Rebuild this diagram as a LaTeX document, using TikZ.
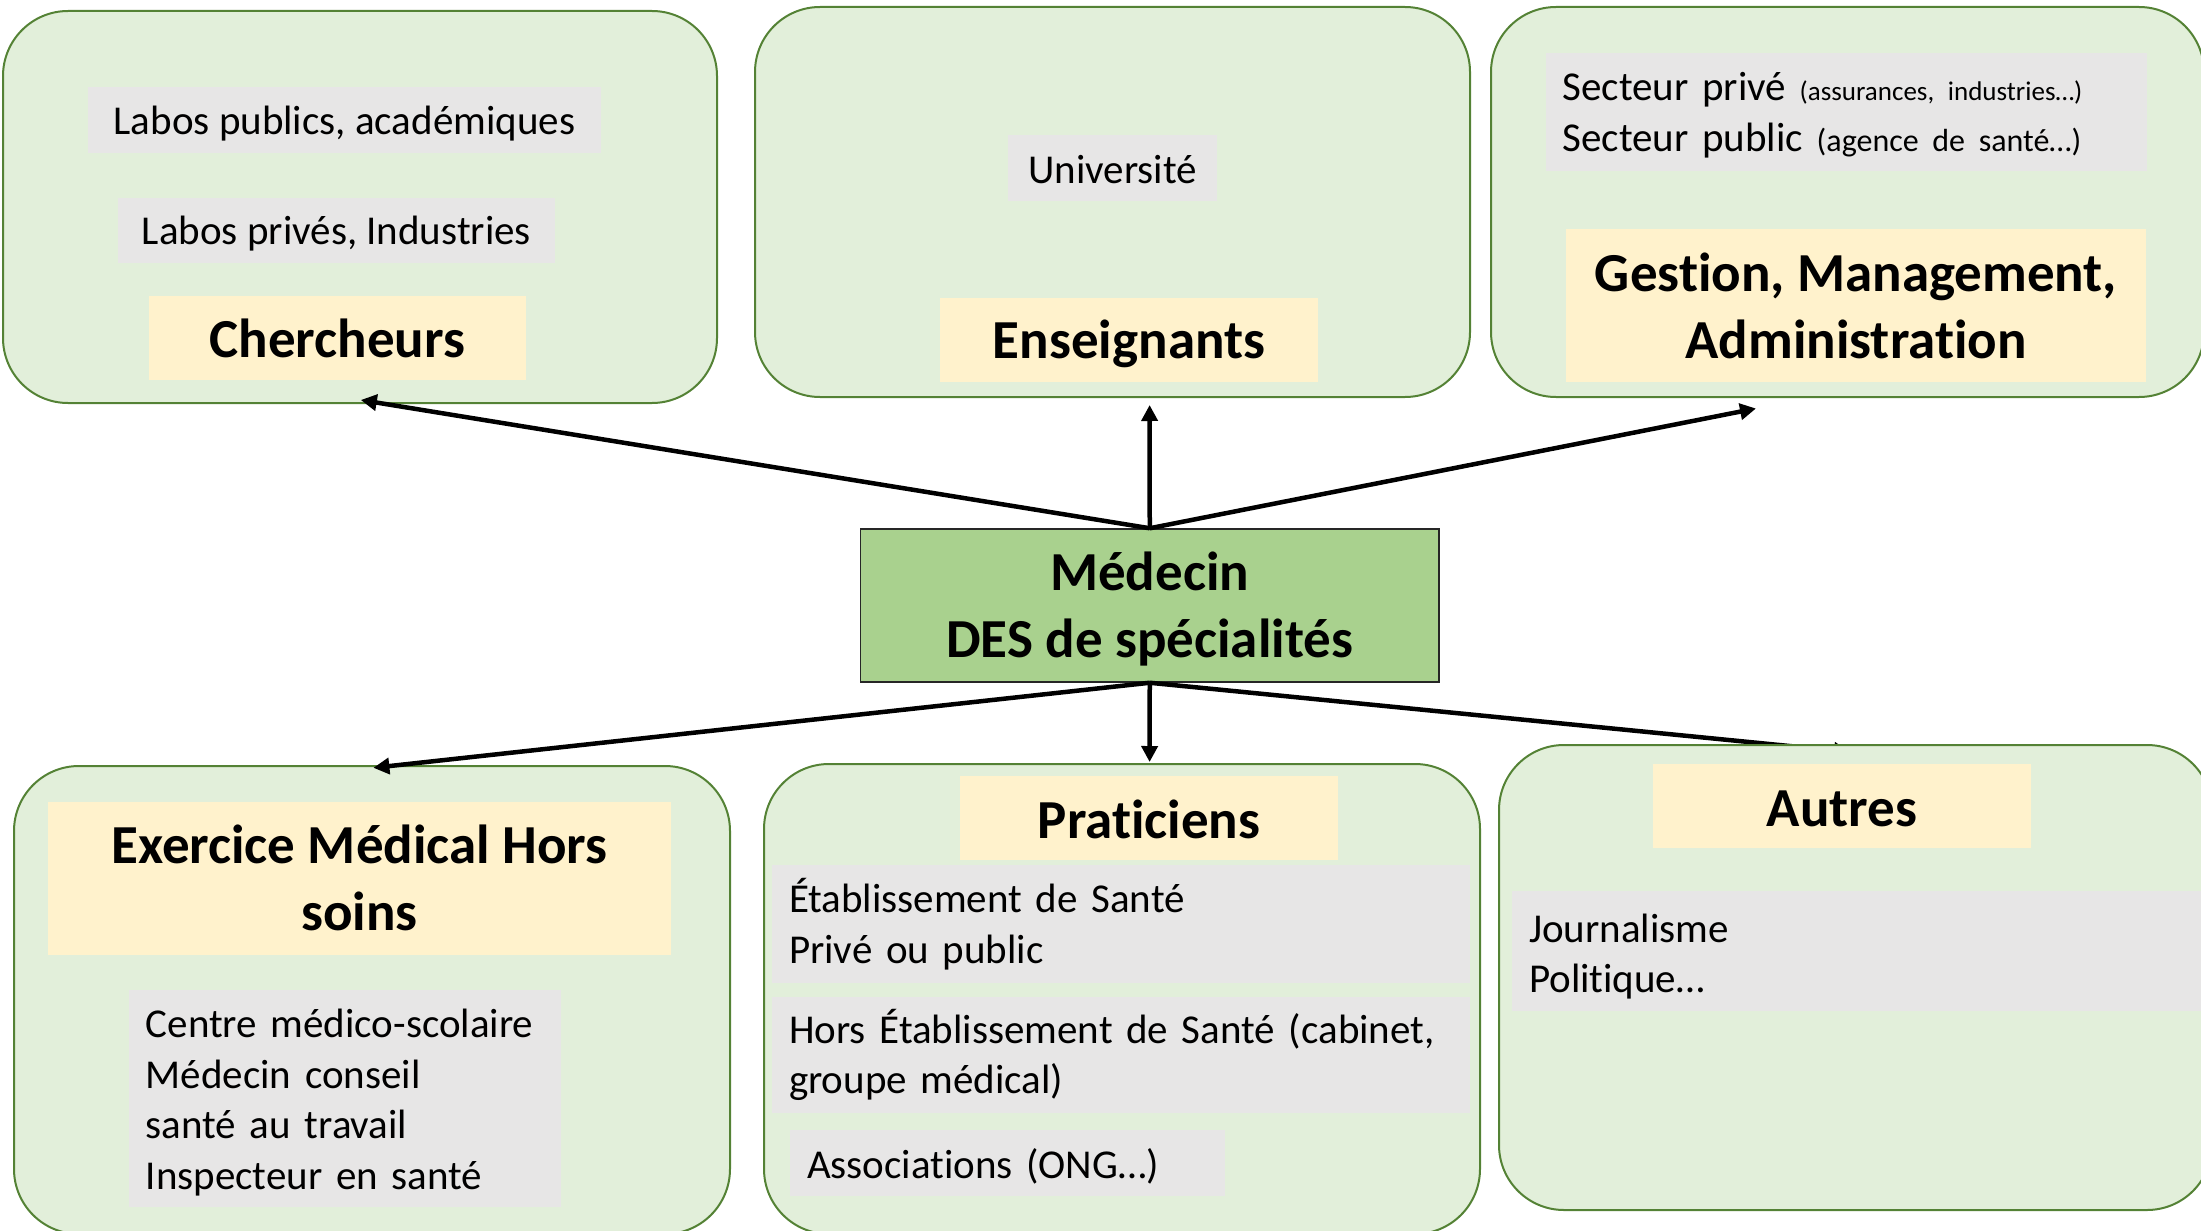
\documentclass[tikz,border=0pt]{standalone}
\usepackage{fontspec}
\setmainfont{Carlito}[RawFeature={-liga;-clig;-calt;-dlig}]
\usetikzlibrary{arrows.meta}
\definecolor{boxgreen}{HTML}{E2EFDA}
\definecolor{boxedge}{HTML}{548235}
\definecolor{midgreen}{HTML}{A9D18E}
\definecolor{titlefill}{HTML}{FFF2CC}
\definecolor{itemfill}{HTML}{E7E6E6}
\newcommand{\nrmtxt}{\fontsize{41}{50.5}\selectfont}
\newcommand{\bigtxt}{\fontsize{55}{67}\selectfont\bfseries}
\newcommand{\tli}{t\kern0pt i}
\begin{document}
\begin{tikzpicture}[x=1pt,y=-1pt,
  panelbox/.style={draw=boxedge, line width=2pt, fill=boxgreen, rounded corners=65pt, inner sep=0pt},
  ttl/.style={fill=titlefill, inner sep=0pt},
  itm/.style={fill=itemfill, inner sep=0pt},
  ttltxt/.style={inner sep=0pt, font=\bigtxt, align=center},
  itmtxt/.style={inner sep=0pt, font=\nrmtxt, align=center},
  litmtxt/.style={inner sep=0pt, font=\nrmtxt, align=left},
  arr/.style={line width=4.5pt, -{Triangle[length=16pt,width=16pt]}}]
\useasboundingbox (0,0) rectangle (2201,1231);

% centre
\node[draw=black!85, line width=1.5pt, fill=midgreen, minimum width=578.5pt, minimum height=153pt,
  inner sep=0pt] (med) at (1149.75,605.5) {};
\node[ttltxt] (medt) at ([yshift=-4pt]med.center) {Médecin\\DES de spécialités};

% arrow end points
\coordinate (tA) at (360.8,400);
\coordinate (tB) at (1149.6,405);
\coordinate (tC) at (1756,408.5);
\coordinate (tD) at (373.4,767.8);
\coordinate (tE) at (1149.6,762);
\coordinate (tF) at (1850,752);

% arrow into "Autres" passes under its panel
\draw[arr] (med.south) -- (tF);

% top panels
\node[panelbox, minimum width=714pt, minimum height=392pt] (pA) at (360,207) {};
\node[panelbox, minimum width=715pt, minimum height=390pt] (pB) at (1112.5,202) {};
\node[panelbox, minimum width=713pt, minimum height=390pt] (pC) at (1847.5,202) {};

\node[itm, minimum width=513pt, minimum height=66pt] (a1) at (344.5,120) {};
\node[itmtxt] (a1t) at ([yshift=-4pt]a1.center) {Labos publics, académiques};
\node[itm, minimum width=437pt, minimum height=65pt] (a2) at (336.5,230.5) {};
\node[itmtxt] (a2t) at ([yshift=-3pt]a2.center) {Labos privés, Industries};
\node[ttl, minimum width=377pt, minimum height=84pt] (a3) at (337.5,338) {};
\node[ttltxt] (a3t) at (a3.center) {Chercheurs};

\node[itm, minimum width=209pt, minimum height=66pt] (b1) at (1112.5,168) {};
\node[itmtxt] (b1t) at ([yshift=-1.5pt]b1.center) {Université};
\node[ttl, minimum width=377.5pt, minimum height=84pt] (b2) at (1129,340) {};
\node[ttltxt] (b2t) at ([yshift=-4pt]b2.center) {Enseignants};

\node[itm, minimum width=601pt, minimum height=118pt] (c1) at (1846,112) {};
\node[litmtxt, text width=567pt] (c1t) at ([yshift=-3pt]c1.center)
  {Secteur privé {\fontsize{27}{32}\selectfont (assurances, industries…)}\\
   Secteur public {\fontsize{32}{38}\selectfont (agence de santé…)}};
\node[ttl, minimum width=580pt, minimum height=153pt] (c2) at (1856,305.5) {};
\node[ttltxt] (c2t) at (c2.center) {Ges\tli on, Management,\\Administra\tli on};

% bottom panels
\node[panelbox, minimum width=716pt, minimum height=468pt] (pD) at (372,1000) {};
\node[panelbox, minimum width=716pt, minimum height=470pt] (pE) at (1122,999) {};
\node[panelbox, minimum width=713pt, minimum height=465pt] (pF) at (1855.5,977.5) {};

\node[ttl, minimum width=623pt, minimum height=153pt] (d1) at (359.5,878) {};
\node[ttltxt] (d1t) at (d1.center) {Exercice Médical Hors\\soins};
\node[itm, minimum width=432.5pt, minimum height=217pt] (d2) at (345,1098.5) {};
\node[litmtxt, text width=398.5pt] (d2t) at ([yshift=-4pt]d2.center)
  {Centre médico-scolaire\\Médecin conseil\\santé au travail\\Inspecteur en santé};

\node[ttl, minimum width=378pt, minimum height=84.5pt] (e1) at (1149,818) {};
\node[ttltxt] (e1t) at ([yshift=-1.5pt]e1.center) {Pra\tli ciens};
\node[itm, minimum width=698pt, minimum height=118pt] (e2) at (1121,924) {};
\node[litmtxt, text width=664pt] (e2t) at (e2.center) {Établissement de Santé\\Privé ou public};
\node[itm, minimum width=698pt, minimum height=116pt] (e3) at (1121,1055) {};
\node[litmtxt, text width=664pt] (e3t) at (e3.center) {Hors Établissement de Santé (cabinet,\\groupe médical)};
\node[itm, minimum width=435pt, minimum height=66pt] (e4) at (1007.5,1163) {};
\node[litmtxt, text width=401pt] (e4t) at ([yshift=-3pt]e4.center) {Associa\tli ons (ONG…)};

\node[ttl, minimum width=377.5pt, minimum height=84pt] (f1) at (1842,806) {};
\node[ttltxt] (f1t) at ([yshift=-3pt]f1.center) {Autres};
\node[itm, minimum width=698pt, minimum height=120pt] (f2) at (1861,951) {};
\node[litmtxt, text width=664pt] (f2t) at ([yshift=-5.5pt]f2.center) {Journalisme\\Poli\tli que…};

% remaining connectors
\draw[arr] (med.north) -- (tA);
\draw[arr] (med.north) -- (tB);
\draw[arr] (med.north) -- (tC);
\draw[arr] (med.south) -- (tD);
\draw[arr] (med.south) -- (tE);
\end{tikzpicture}
\end{document}
